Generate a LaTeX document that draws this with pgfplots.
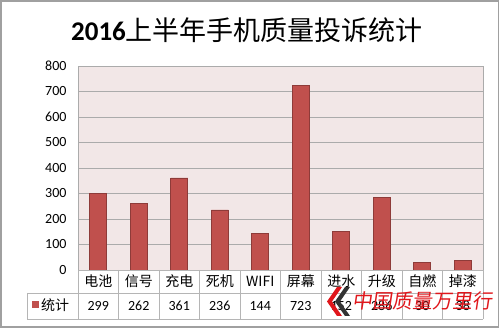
\documentclass[border=0pt]{standalone}
\usepackage{pgfplots}
\usepackage{pgfplotstable}
\pgfplotsset{compat=1.18}
\usepackage{fontspec}
\setmainfont{Carlito}
\newfontfamily\cjk{Noto Sans CJK SC}

\definecolor{barred}{HTML}{C0504D}
\definecolor{baredge}{HTML}{8E3B39}
\definecolor{plotbg}{HTML}{F2E7E7}
\definecolor{gridgray}{HTML}{ABABAB}
\definecolor{framegray}{HTML}{A0A0A0}
\definecolor{tablegray}{HTML}{B5B5B5}
\definecolor{stampred}{HTML}{E0161B}

% complaint counts, first half of 2016
\pgfplotstableread{
idx cat value
0 电池 299
1 信号 262
2 充电 361
3 死机 236
4 WIFI 144
5 屏幕 723
6 进水 152
7 升级 286
8 自燃 30
9 掉漆 38
}\complaints

\begin{document}
\begin{tikzpicture}
\useasboundingbox (0pt,0pt) rectangle (500pt,328pt);
\draw[framegray, line width=1.6pt] (0.8pt,0.8pt) rectangle (498.4pt,327.2pt);

% title
\node[font=\fontsize{27}{30}\selectfont, inner sep=0] at (247pt,298pt)
  {\textbf{2016}{\cjk 上半年手机质量投诉统计}};

\begin{axis}[
  at={(78pt,58pt)}, anchor=south west,
  scale only axis, width=405pt, height=204pt,
  xmin=-0.5, xmax=9.5, ymin=0, ymax=800,
  ytick={0,100,...,800}, xtick=\empty,
  major tick length=0pt,
  ymajorgrids, grid style={gridgray, line width=0.9pt},
  axis background/.style={fill=plotbg},
  axis line style={gridgray, line width=0.6pt},
  yticklabel style={font=\fontsize{14}{16}\selectfont, xshift=-8pt},
  /pgf/number format/assume math mode=true,
  ybar, bar width=17pt,
]
\addplot[fill=barred, draw=baredge, line width=0.6pt] table[x=idx, y=value] {\complaints};
\end{axis}

\begin{scope}[x=1pt, y=1pt]
% data table below the plot
\begin{scope}[tablegray, line width=0.7pt]
  \draw (78,58) -- (483,58);
  \draw (27,35) -- (483,35);
  \draw (27,9) -- (483,9);
  \draw (27,35) -- (27,9);
  \foreach \k in {0,...,10} {\draw (78+40.5*\k,58) -- (78+40.5*\k,9);}
\end{scope}

\fill[barred] (31.5,20) rectangle (38.5,27);
\node[anchor=west, inner sep=0, font=\fontsize{14}{16}\selectfont\cjk] at (41,22.5) {统计};

\foreach \i in {0,...,9} {
  \pgfplotstablegetelem{\i}{cat}\of\complaints
  \node[font=\fontsize{14}{16}\selectfont\cjk, inner sep=0] at (98.25+40.5*\i,46.5) {\pgfplotsretval};
  \pgfplotstablegetelem{\i}{value}\of\complaints
  \node[font=\fontsize{14}{16}\selectfont, inner sep=0] at (98.25+40.5*\i,22) {\pgfplotsretval};
}

% stamp
\fill[stampred] (337,41) -- (327,26.5) -- (337,12) -- (342,12) -- (332,26.5) -- (342,41) -- cycle;
\fill[black!80] (345,41) -- (335,26.5) -- (345,12) -- (350,12) -- (340,26.5) -- (350,41) -- cycle;
\node[stampred, anchor=west, inner sep=0, font=\fontsize{20}{22}\selectfont\cjk, xslant=0.15] at (353,27) {中国质量万里行};
\end{scope}
\end{tikzpicture}
\end{document}
